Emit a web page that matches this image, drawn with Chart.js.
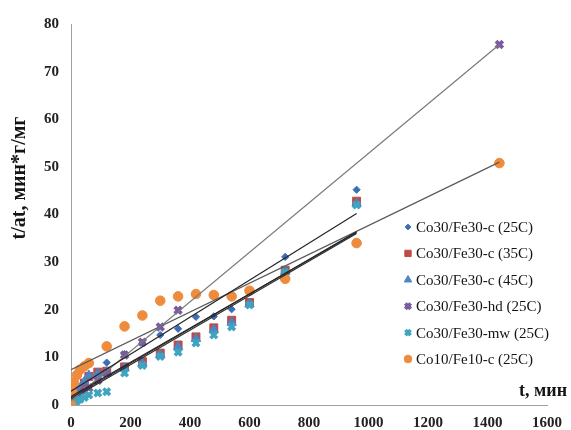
<!DOCTYPE html>
<html>
<head>
<meta charset="utf-8">
<script src="https://cdn.jsdelivr.net/npm/chart.js@4.4.1/dist/chart.umd.min.js"></script>
<style>
  html, body { margin: 0; background: #fff; }
</style>
</head>
<body>
<canvas id="adsChart" width="571" height="430"></canvas>
<script>
// Sorption kinetics, pseudo-second-order form: t/at vs t
const seriesNames = [
    "Co30/Fe30-c (25C)",
    "Co30/Fe30-c (35C)",
    "Co30/Fe30-c (45C)",
    "Co30/Fe30-hd (25C)",
    "Co30/Fe30-mw (25C)",
    "Co10/Fe10-c (25C)"
];

// time, min
const tCo30 = [5, 10, 15, 20, 30, 45, 60, 90, 120, 180, 240, 300, 360, 420, 480, 540, 600, 720, 960];
const tHd = [5, 10, 15, 20, 30, 45, 60, 90, 120, 180, 240, 300, 360, 1440];
const tCo10 = [0, 5, 10, 20, 30, 45, 60, 120, 180, 240, 300, 360, 420, 480, 540, 600, 720, 960, 1440];

// t/at, min*g/mg
const c25 = [1.3, 1.8, 2.2, 2.7, 3.5, 4.6, 5.8, 6.8, 8.9, 10.7, 13.0, 14.7, 16.0, 18.5, 18.6, 20.1, 21.6, 31.1, 45.2];
const c35 = [0.9, 1.3, 1.8, 2.3, 3.2, 4.6, 6.0, 6.9, 7.1, 8.0, 9.1, 10.9, 12.6, 14.3, 16.2, 17.8, 21.5, 28.3, 42.8];
const c45 = [1.1, 1.6, 2.1, 2.6, 3.5, 4.9, 6.2, 6.6, 6.9, 7.8, 8.7, 10.5, 12.2, 13.9, 15.8, 17.3, 21.2, 28.0, 42.3];
const hd25 = [0.6, 1.0, 1.3, 1.6, 2.2, 2.9, 3.6, 5.2, 6.7, 10.5, 13.2, 16.4, 19.9, 75.7];
const mw25 = [0.3, 0.5, 0.7, 0.9, 1.2, 1.6, 2.1, 2.5, 2.8, 6.7, 8.3, 10.2, 11.1, 13.0, 14.7, 16.4, 21.0, 27.8, 42.0];
const co10 = [0, 2.6, 4.7, 6.3, 7.4, 8.1, 8.8, 12.3, 16.5, 18.8, 21.9, 22.8, 23.3, 23.1, 22.8, 24.0, 26.5, 34.0, 50.8];

// linear trendlines: value at t = 0 and at the last time of each series
const fitStart = [2.9, 1.5, 1.8, 0.9, 1.2, 7.4];
const fitEnd = [40.2, 36.4, 36.2, 75.7, 36.0, 51.0];

const xTicks = [0, 200, 400, 600, 800, 1000, 1200, 1400, 1600];
const yTicks = [0, 10, 20, 30, 40, 50, 60, 70, 80];

const times = [tCo30, tCo30, tCo30, tHd, tCo30, tCo10];
const values = [c25, c35, c45, hd25, mw25, co10];
const colors = ["#3d6db5", "#bd4b48", "#4a86c4", "#7a5ba0", "#3fa4c0", "#ee8b3c"];
const styles = ["rectRot", "rect", "triangle", "crossRot", "crossRot", "circle"];
const radii = [3.6, 5.6, 5.4, 4.8, 4.6, 4.8];
const borders = [1, 1, 1, 3.8, 3.6, 1];
const fitColors = ["#262626", "#262626", "#262626", "#7a7a7a", "#303030", "#5a5a5a"];

const serif = "'Liberation Serif', 'Times New Roman', serif";

function toPoints(xs, ys) {
    return xs.map((x, i) => ({ x: x, y: ys[i] }));
}

const datasets = [];

// trendlines first so they sit above the markers
seriesNames.forEach((name, i) => {
    const t = times[i];
    datasets.push({
        label: name + " fit",
        data: [{ x: 0, y: fitStart[i] }, { x: t[t.length - 1], y: fitEnd[i] }],
        showLine: true,
        borderColor: fitColors[i],
        borderWidth: 1.2,
        pointRadius: 0,
        order: 0
    });
});

seriesNames.forEach((name, i) => {
    datasets.push({
        label: name,
        data: toPoints(times[i], values[i]),
        pointStyle: styles[i],
        pointRadius: radii[i],
        pointBorderWidth: borders[i],
        backgroundColor: colors[i],
        borderColor: colors[i],
        showLine: false,
        order: 6 - i
    });
});

// axis titles and the legend box on the right
const textPlugin = {
    id: "textPlugin",
    afterDraw(chart) {
        const ctx = chart.ctx;
        ctx.save();
        ctx.fillStyle = "#141414";
        ctx.font = "bold 20px " + serif;
        ctx.textAlign = "center";
        ctx.textBaseline = "middle";
        ctx.translate(20, 178);
        ctx.rotate(-Math.PI / 2);
        ctx.fillText("t/at, мин*г/мг", 0, 0);
        ctx.restore();

        ctx.save();
        ctx.fillStyle = "#141414";
        ctx.font = "bold 18px " + serif;
        ctx.textAlign = "right";
        ctx.textBaseline = "middle";
        ctx.fillText("t, мин", 567, 391);
        ctx.restore();

        seriesNames.forEach((name, i) => {
            const y = 227 + i * 26.4;
            ctx.save();
            ctx.fillStyle = colors[i];
            ctx.strokeStyle = colors[i];
            ctx.lineWidth = borders[i];
            Chart.helpers.drawPoint(ctx, {
                pointStyle: styles[i],
                radius: radii[i] * 0.8,
                borderWidth: borders[i] * 0.85,
                rotation: 0
            }, 408, y);
            ctx.restore();

            ctx.save();
            ctx.fillStyle = "#141414";
            ctx.font = "15px " + serif;
            ctx.textAlign = "left";
            ctx.textBaseline = "middle";
            ctx.fillText(name, 416, y + 1);
            ctx.restore();
        });
    }
};

new Chart(document.getElementById("adsChart").getContext("2d"), {
    type: "scatter",
    data: { datasets: datasets },
    options: {
        responsive: false,
        animation: false,
        layout: { padding: { left: 0, right: 20, top: 24, bottom: 0 } },
        plugins: {
            legend: { display: false },
            tooltip: { enabled: false }
        },
        scales: {
            x: {
                type: "linear",
                min: 0,
                max: 1600,
                afterBuildTicks: (scale) => { scale.ticks = xTicks.map(v => ({ value: v })); },
                afterFit: (scale) => { scale.height = 25; },
                grid: { display: false, drawTicks: false },
                border: { display: true, color: "#a0a0a0", width: 1 },
                ticks: {
                    padding: 9,
                    color: "#222",
                    font: { family: serif, size: 15, weight: "bold" },
                    callback: (v) => String(v)
                }
            },
            y: {
                type: "linear",
                min: 0,
                max: 80,
                afterBuildTicks: (scale) => { scale.ticks = yTicks.map(v => ({ value: v })); },
                afterFit: (scale) => { scale.width = 71; },
                grid: { display: false, drawTicks: false },
                border: { display: true, color: "#a0a0a0", width: 1 },
                ticks: {
                    padding: 12,
                    color: "#222",
                    font: { family: serif, size: 15, weight: "bold" },
                    callback: (v) => String(v)
                }
            }
        }
    },
    plugins: [textPlugin]
});
</script>
</body>
</html>
